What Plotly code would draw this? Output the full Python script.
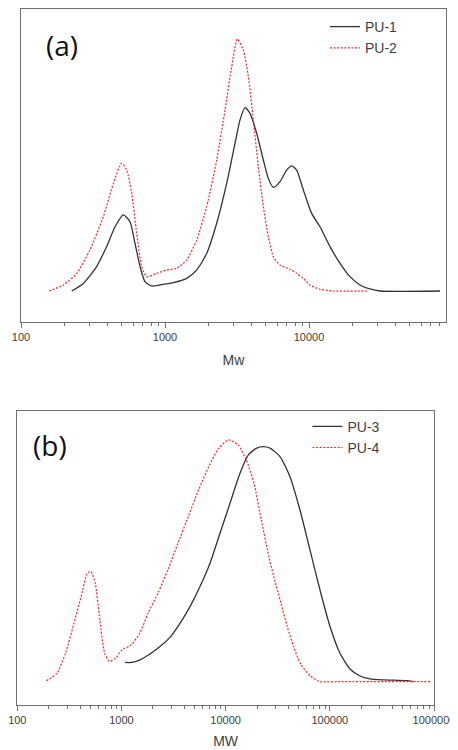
import plotly.graph_objects as go

# ---------------- data ----------------
# Panel (a)
pu1_mw = [225, 271, 335, 393, 450, 514, 571, 619, 671, 726, 808, 923, 1143, 1414, 1659,
          1947, 2285, 2681, 3063, 3318, 3594, 3893, 4332, 4818, 5219, 5653, 6288, 6996,
          7578, 8210, 9134, 10435, 11924, 13988, 16420, 19260, 22610, 26520, 31120, 81230]
pu1_val = [0.0, 0.030, 0.097, 0.176, 0.255, 0.302, 0.275, 0.189, 0.097, 0.037, 0.020,
           0.024, 0.033, 0.050, 0.083, 0.149, 0.269, 0.427, 0.586, 0.679, 0.728, 0.705,
           0.626, 0.520, 0.447, 0.411, 0.434, 0.480, 0.497, 0.480, 0.401, 0.308, 0.255,
           0.176, 0.110, 0.057, 0.024, 0.008, 0.0, 0.0]

pu2_mw = [157, 197, 244, 301, 373, 438, 500, 542, 587, 636, 689, 746, 875, 1027, 1205,
          1414, 1659, 1947, 2285, 2611, 2904, 3179, 3499, 3791, 4106, 4448, 4818, 5219,
          5653, 6288, 7380, 8210, 9134, 10160, 11924, 14760, 25830]
pu2_val = [0.0, 0.024, 0.070, 0.163, 0.295, 0.427, 0.507, 0.480, 0.388, 0.229, 0.097,
           0.057, 0.070, 0.083, 0.090, 0.123, 0.202, 0.335, 0.520, 0.718, 0.890, 1.0,
           0.956, 0.851, 0.679, 0.493, 0.335, 0.216, 0.136, 0.103, 0.086, 0.070, 0.050,
           0.024, 0.007, 0.0, 0.0]

# Panel (b)
pu3_mw = [1080, 1252, 1505, 1877, 2342, 2922, 3645, 4547, 5671, 7074, 8824, 11006,
          13728, 16510, 19850, 22990, 26650, 33230, 41450, 51700, 64490, 80440, 100400,
          125200, 156200, 194800, 242900, 326300, 546700, 633300]
pu3_val = [0.079, 0.079, 0.090, 0.114, 0.145, 0.183, 0.241, 0.310, 0.393, 0.490, 0.614,
           0.738, 0.862, 0.938, 0.966, 0.972, 0.966, 0.931, 0.848, 0.710, 0.545, 0.379,
           0.228, 0.117, 0.052, 0.023, 0.011, 0.007, 0.004, 0.0]

pu4_mw = [190, 240, 290, 350, 410, 470, 510, 560, 620, 690, 770, 880, 1010, 1240, 1500,
          1800, 2240, 2790, 3480, 4380, 5500, 6900, 8600, 10700, 13200, 15800, 18700,
          22000, 26000, 29000, 34000, 39000, 44800, 52600, 65000, 80000, 130000, 950000]
pu4_val = [0.003, 0.034, 0.117, 0.241, 0.352, 0.449, 0.455, 0.407, 0.255, 0.117, 0.083,
           0.097, 0.131, 0.152, 0.200, 0.283, 0.366, 0.462, 0.572, 0.683, 0.793, 0.890,
           0.966, 1.0, 0.979, 0.917, 0.821, 0.669, 0.517, 0.434, 0.324, 0.228, 0.145,
           0.072, 0.023, 0.0, 0.0, 0.0]

x_ticks = [100, 1000, 10000, 100000, 1000000]
x_ticklabels = ["100", "1000", "10000", "100000", "1000000"]

# ---------------- figure ----------------
OFF = 8                      # page body margin
W, H = 458 - OFF, 750 - OFF
BLACK = "#333333"
RED = "#ff2424"
FRAME = "#707070"
TXT = "#404040"
FONT = "Liberation Sans, Arial"
DOT = "2px,1.6px"

fig = go.Figure()

fig.add_trace(go.Scatter(x=pu1_mw, y=pu1_val, mode="lines", name="PU-1",
                         line=dict(color=BLACK, width=1.3, shape="spline", smoothing=0.6),
                         xaxis="x", yaxis="y", legend="legend"))
fig.add_trace(go.Scatter(x=pu2_mw, y=pu2_val, mode="lines", name="PU-2",
                         line=dict(color=RED, width=1.2, dash=DOT, shape="spline", smoothing=0.6),
                         xaxis="x", yaxis="y", legend="legend"))
fig.add_trace(go.Scatter(x=pu3_mw, y=pu3_val, mode="lines", name="PU-3",
                         line=dict(color=BLACK, width=1.3, shape="spline", smoothing=0.6),
                         xaxis="x2", yaxis="y2", legend="legend2"))
fig.add_trace(go.Scatter(x=pu4_mw, y=pu4_val, mode="lines", name="PU-4",
                         line=dict(color=RED, width=1.2, dash=DOT, shape="spline", smoothing=0.6),
                         xaxis="x2", yaxis="y2", legend="legend2"))


def px_x(px):
    return (px - OFF) / W


def px_y(px):
    return (H - (px - OFF)) / H


def xaxis_style(domain, rng, anchor, title, standoff):
    return dict(
        type="log", domain=domain, range=rng, anchor=anchor, automargin=False,
        showline=True, linecolor=FRAME, linewidth=1.3, mirror=True,
        showgrid=False, zeroline=False,
        ticks="outside", ticklen=5, tickwidth=1, tickcolor=FRAME,
        tickvals=x_ticks, ticktext=x_ticklabels, ticklabeloverflow="allow",
        tickfont=dict(family=FONT, size=11, color=TXT),
        minor=dict(ticks="outside", ticklen=3, tickwidth=1, tickcolor=FRAME,
                   dtick="D1", showgrid=False),
        title=dict(text=title, font=dict(family=FONT, size=14, color=TXT), standoff=standoff),
        fixedrange=True,
    )


def yaxis_style(domain, rng, anchor):
    return dict(
        domain=domain, range=rng, anchor=anchor, automargin=False,
        showline=True, linecolor=FRAME, linewidth=1.3, mirror=True,
        showgrid=False, zeroline=False, showticklabels=False, ticks="",
        fixedrange=True,
    )


# panel (a): plot area x 21..446 px, y 9.3..322 px (page pixels)
xa_dom = [px_x(21), px_x(446)]
ya_dom = [px_y(322), px_y(9.3)]
# panel (b): plot area x 17.3..434 px, y 410.7..705 px
xb_dom = [px_x(17.3), px_x(434)]
yb_dom = [px_y(705), px_y(410.7)]

fig.update_layout(
    width=W, height=H,
    margin=dict(l=0, r=0, t=0, b=0, autoexpand=False),
    paper_bgcolor="white", plot_bgcolor="white",
    showlegend=True,
    xaxis=xaxis_style(xa_dom, [2, 2.0 + (446 - 21) / 144.0], "y", "Mw", 12),
    yaxis=yaxis_style(ya_dom, [-0.123, 1.118], "x"),
    xaxis2=xaxis_style(xb_dom, [2, 6], "y2", "MW", 10),
    yaxis2=yaxis_style(yb_dom, [-0.097, 1.121], "x2"),
    legend=dict(x=px_x(325), y=px_y(11), xanchor="left", yanchor="top",
                bgcolor="rgba(0,0,0,0)", borderwidth=0, tracegroupgap=0,
                font=dict(family=FONT, size=14, color=TXT)),
    legend2=dict(x=px_x(307.5), y=px_y(410.7), xanchor="left", yanchor="top",
                 bgcolor="rgba(0,0,0,0)", borderwidth=0, tracegroupgap=0,
                 font=dict(family=FONT, size=14, color=TXT)),
    annotations=[
        dict(text="(a)", x=px_x(62), y=px_y(45), xref="paper", yref="paper",
             showarrow=False, xanchor="center", yanchor="middle",
             font=dict(family="Open Sans", size=28, color="#111111")),
        dict(text="(b)", x=px_x(49.5), y=px_y(444.5), xref="paper", yref="paper",
             showarrow=False, xanchor="center", yanchor="middle",
             font=dict(family="Open Sans", size=28, color="#111111")),
    ],
)

fig.write_html("out.html")
